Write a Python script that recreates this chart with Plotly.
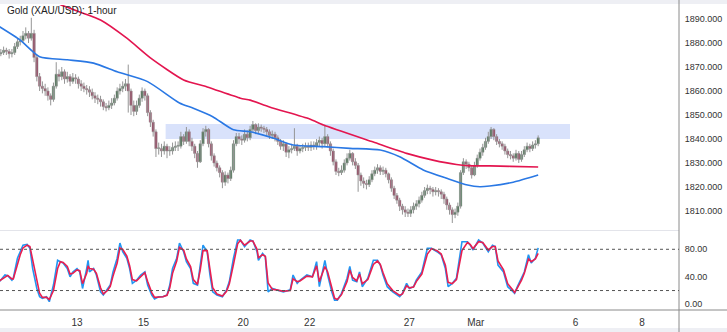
import plotly.graph_objects as go

# ---------------- data ----------------
title_text = "Gold (XAU/USD): 1-hour"

# x axis: trading hours counted from Wed Feb 8 00:00 (weekends removed)
tick_hours = [72, 120, 192, 240, 312, 360, 432, 480]
tick_labels = ["13", "15", "20", "22", "27", "Mar", "6", "8"]

price_ticks = [1810, 1820, 1830, 1840, 1850, 1860, 1870, 1880, 1890]
stoch_ticks = [0, 40, 80]
stoch_levels = [20, 80]

first_hour = 17
bar_step_hours = 2
first_open = 1875.5

closes = [1876, 1877, 1876.5, 1875.5, 1876, 1878.5, 1880.5, 1881, 1883, 1884,
          1882, 1884, 1874, 1866, 1862, 1861, 1860, 1858, 1856.5, 1862,
          1867, 1866, 1868, 1865, 1866, 1864, 1865.5, 1865, 1863, 1862,
          1861, 1860.5, 1859.5, 1858, 1857, 1856.5, 1855.5, 1853.5, 1853, 1854,
          1855, 1857, 1860, 1861, 1862, 1863, 1860, 1854, 1851.5, 1854,
          1857, 1860, 1858, 1851, 1847, 1843, 1836, 1836, 1835, 1837,
          1835, 1835, 1836.5, 1837, 1837, 1841, 1839, 1843, 1839, 1837,
          1834, 1830.5, 1838, 1843, 1844, 1838, 1833, 1830, 1828, 1826,
          1822, 1825, 1823.5, 1827, 1838, 1841, 1840, 1839.5, 1842, 1840.5,
          1844, 1846, 1843.5, 1845, 1844.5, 1844, 1843, 1841.5, 1842, 1840.5,
          1839, 1837, 1838, 1834.5, 1835.5, 1836, 1837, 1835, 1836, 1836.5,
          1837, 1836.5, 1837.5, 1837, 1838.5, 1839.5, 1838, 1841, 1838, 1835,
          1830.5, 1826.5, 1826, 1827, 1830, 1832, 1834, 1830.5, 1829, 1825,
          1822.5, 1821.5, 1821, 1823, 1825.5, 1827, 1828, 1826.5, 1827, 1825.5,
          1823, 1819.5, 1816.5, 1814.5, 1812, 1810.5, 1809.5, 1809, 1810.5, 1812,
          1813, 1814.5, 1816.5, 1818.5, 1819.5, 1819, 1818, 1818.5, 1818, 1817,
          1815, 1812.5, 1810.5, 1808.5, 1809.5, 1812, 1826, 1830.5, 1829.5, 1828,
          1825, 1829, 1832, 1834.5, 1836.5, 1839, 1841, 1844, 1841, 1839,
          1838, 1837, 1835, 1833.5, 1833, 1832, 1834, 1831.5, 1833.5, 1835.5,
          1837, 1836, 1837.5, 1838, 1840.5]

highs = [1877.5, 1878.5, 1878, 1877.5, 1877.5, 1880, 1882, 1883, 1885, 1886.5,
         1885, 1890.5, 1885.5, 1875, 1867.5, 1864, 1863, 1861.5, 1859, 1863.5,
         1872, 1869, 1870, 1869, 1868, 1867, 1867.5, 1867, 1866, 1864.5,
         1863.5, 1862.5, 1862, 1861, 1859.5, 1858.5, 1858, 1856.5, 1855, 1856,
         1857, 1858.5, 1861.5, 1863, 1864, 1865, 1871, 1861, 1856, 1856,
         1858.5, 1861.5, 1861, 1859, 1852, 1848, 1844, 1838.5, 1838, 1839,
         1838, 1837, 1838.5, 1839, 1839, 1843, 1842, 1845, 1844, 1840.5,
         1838, 1835, 1839.5, 1844.5, 1845.5, 1844.5, 1839, 1834, 1831, 1829,
         1827, 1826.5, 1826, 1828.5, 1839.5, 1842.5, 1842.5, 1841.5, 1844, 1843.5,
         1845.5, 1847.5, 1846.5, 1846.5, 1846, 1845.5, 1845, 1844, 1843.5, 1843,
         1841.5, 1840, 1839.5, 1838.5, 1837, 1838, 1844.5, 1838, 1837.5, 1838,
         1838.5, 1838.5, 1839, 1839, 1840, 1841, 1840.5, 1846, 1842, 1839,
         1836, 1831.5, 1828, 1829, 1831.5, 1834, 1835.5, 1834.5, 1832, 1830,
         1826, 1824, 1823, 1824.5, 1827, 1828.5, 1829.5, 1829, 1828.5, 1828,
         1826, 1824, 1820.5, 1817.5, 1815.5, 1813, 1812, 1811, 1812, 1813.5,
         1814.5, 1816, 1818, 1820, 1821, 1820.5, 1820, 1820, 1819.5, 1819,
         1818, 1816, 1813.5, 1811.5, 1811, 1813.5, 1827, 1832, 1831.5, 1830.5,
         1829, 1830.5, 1833.5, 1836, 1838, 1840.5, 1843, 1845, 1844.5, 1842,
         1840, 1839, 1838, 1836, 1835, 1834, 1835.5, 1835, 1835, 1837,
         1838.5, 1838, 1839, 1839.5, 1841.5]

lows = [1874.5, 1875, 1875, 1873.5, 1874, 1875, 1877.5, 1879, 1880, 1881.5,
        1880, 1881, 1872, 1864, 1860, 1859, 1858, 1856, 1854, 1855.5,
        1861, 1864, 1864.5, 1863, 1863.5, 1862, 1863, 1863, 1861, 1860,
        1859.5, 1858.5, 1857.5, 1856.5, 1855, 1854.5, 1853.5, 1852, 1851.5, 1852,
        1852.5, 1854, 1856, 1858.5, 1859.5, 1860, 1851, 1850, 1849.5, 1850,
        1853, 1855.5, 1856, 1849.5, 1845, 1841, 1832.5, 1833.5, 1832.5, 1833.5,
        1832, 1833, 1833.5, 1835, 1835, 1836, 1837.5, 1838, 1837, 1835,
        1832, 1828, 1830, 1837, 1841, 1836.5, 1831, 1828.5, 1826.5, 1824,
        1819.5, 1820.5, 1821.5, 1822.5, 1826, 1837, 1838, 1837.5, 1838.5, 1839,
        1839.5, 1843, 1842, 1842.5, 1843, 1842.5, 1841.5, 1840, 1840, 1839,
        1837.5, 1835.5, 1835, 1832.5, 1832, 1834, 1835, 1833, 1834, 1834.5,
        1835, 1835, 1835, 1835.5, 1835.5, 1837, 1836, 1837, 1836.5, 1833,
        1829, 1825, 1824.5, 1825, 1826, 1829, 1831, 1829, 1827.5, 1818,
        1820.5, 1819.5, 1819, 1820, 1822, 1824.5, 1825.5, 1825, 1825, 1824,
        1821.5, 1818, 1815, 1813, 1810, 1808.5, 1807.5, 1807.5, 1807.5, 1809,
        1810.5, 1811.5, 1813.5, 1815.5, 1817, 1817, 1816, 1816.5, 1816, 1815,
        1813, 1810.5, 1808.5, 1805, 1807, 1808, 1811, 1825, 1827.5, 1826.5,
        1823.5, 1824.5, 1828, 1831, 1833, 1835.5, 1838, 1840, 1839.5, 1837.5,
        1836.5, 1835.5, 1833.5, 1832, 1831.5, 1830.5, 1831, 1830, 1830.5, 1832.5,
        1834.5, 1834.5, 1835, 1836, 1837]

# slow moving average (red)
ma_red_hours = [52, 58, 89, 108, 125, 149, 166, 190, 197, 211, 240, 250,
                286, 310, 329, 346, 358, 370, 385, 405]
ma_red = [1899.2, 1896.5, 1889.6, 1882.0, 1873.8, 1864.6, 1861.7, 1857.0,
          1856.2, 1853.3, 1848.3, 1845.8, 1838.7, 1834.0, 1831.2, 1829.4,
          1828.8, 1828.8, 1828.6, 1828.3]

# faster moving average (blue)
ma_blue_hours = [16, 31, 45, 65, 84, 101, 123, 146, 156, 170, 185, 197, 214,
                 228, 250, 269, 291, 305, 322, 339, 354, 363, 370, 387, 405]
ma_blue = [1886.8, 1881.2, 1874.3, 1873.0, 1871.6, 1868.0, 1863.9, 1855.0,
           1852.8, 1849.3, 1843.8, 1843.0, 1840.3, 1837.5, 1836.8, 1836.1,
           1835.4, 1832.6, 1827.1, 1823.6, 1820.8, 1820.1, 1820.4, 1822.0, 1825.0]

# resistance zone
zone_low, zone_high = 1840.0, 1846.2
zone_start_hour, zone_end_hour = 136, 428

# stochastic oscillator
stoch_hours = [16, 20, 22, 25, 26, 29, 31, 33, 36, 38, 40, 43, 45, 47, 50, 52,
               55, 58, 60, 62, 65, 67, 69, 72, 74, 76, 79, 80, 81, 84, 86, 89,
               91, 94, 96, 98, 101, 103, 105, 108, 110, 112, 115, 118, 121, 123,
               126, 128, 131, 134, 137, 139, 141, 144, 146, 149, 151, 154, 156,
               159, 161, 163, 166, 168, 170, 173, 177, 180, 182, 185, 188, 190,
               193, 197, 199, 202, 203, 206, 208, 210, 213, 216, 221, 226, 228,
               231, 233, 238, 242, 245, 247, 251, 253, 256, 258, 260, 263, 267,
               269, 271, 274, 276, 278, 282, 286, 289, 291, 293, 296, 300, 305,
               307, 310, 312, 315, 317, 321, 325, 328, 332, 335, 338, 340, 343,
               346, 350, 354, 356, 358, 362, 365, 369, 372, 374, 376, 380, 383,
               387, 388, 390, 393, 395, 398, 400, 403, 405]
stoch_k = [33, 42.6, 41.6, 35, 38, 67, 76.5, 86, 87, 81.5, 52, 23, 11, 8.7, 11, 3.8,
           28, 64, 62, 60, 52, 40, 47, 52, 47, 23, 52, 64, 47, 52, 42.6, 18,
           13.5, 23, 28, 47, 67, 89, 76.5, 67, 52, 30.5, 35, 42.6, 47, 28,
           13.5, 7.7, 11, 11, 13.5, 28, 52, 67, 89, 76.5, 62, 52, 30.5,
           28, 57, 86, 76.5, 42.6, 18, 13.5, 11, 21, 33, 67, 93.5, 93.5,
           84, 93.5, 92, 76.5, 64, 74, 69, 18, 23, 21, 18, 21, 42.6,
           30.5, 35, 42.6, 40, 62, 25.6, 64, 42.6, 18, 6, 6, 16, 38,
           55, 35, 33, 47, 25.6, 38, 64, 64, 57, 42.6, 25.6, 18, 11,
           16, 30.5, 23, 25.6, 35, 47, 81.5, 81.5, 76.5, 72, 52, 25.6, 30.5,
           38, 91, 91, 86, 79, 93.5, 89, 76.5, 86, 84, 57, 47, 25.6,
           18, 16, 25.6, 38, 47, 72, 60, 67, 82]
stoch_d = [34, 40, 42, 37, 37, 58, 72, 82, 86, 84, 64, 35, 16, 10, 10, 7,
           20, 52, 62, 61, 55, 44, 45, 50, 49, 30, 45, 56, 52, 51, 45, 24,
           15, 20, 26, 41, 60, 82, 80, 70, 56, 36, 34, 40, 46, 33,
           17, 10, 10, 11, 13, 24, 45, 63, 83, 79, 66, 55, 36,
           29, 50, 78, 78, 50, 24, 15, 12, 19, 30, 58, 88, 93,
           86, 92, 92, 80, 68, 72, 70, 31, 22, 21, 19, 20, 37,
           33, 34, 41, 40, 56, 33, 55, 47, 24, 9, 7, 14, 33,
           50, 39, 34, 44, 30, 36, 58, 63, 58, 46, 30, 20, 13,
           15, 27, 24, 25, 33, 44, 73, 81, 78, 73, 57, 32, 30,
           36, 78, 90, 87, 81, 91, 90, 79, 84, 84, 63, 50, 30,
           20, 17, 24, 35, 45, 66, 62, 66, 74]

# ---------------- derived candle pieces ----------------
bar_hours = [first_hour + bar_step_hours * i for i in range(len(closes))]
opens = [first_open] + closes[:-1]

wick_x, wick_y = [], []
for h, lo, hi in zip(bar_hours, lows, highs):
    wick_x += [h, h, None]
    wick_y += [lo, hi, None]

body_base = [min(o, c) for o, c in zip(opens, closes)]
body_len = [max(abs(c - o), 0.35) for o, c in zip(opens, closes)]
body_col = ["#1d5e2c" if c >= o else "#9c1643" for o, c in zip(opens, closes)]

# ---------------- figure ----------------
FONT = "Liberation Sans, Arial, sans-serif"
X_RANGE = [16.4, 506.7]
TOTAL_W = 727 / 679.0

fig = go.Figure()

fig.add_trace(go.Scatter(x=wick_x, y=wick_y, mode="lines",
                         line=dict(color="#959595", width=1),
                         xaxis="x", yaxis="y", hoverinfo="skip"))
fig.add_trace(go.Bar(x=bar_hours, y=body_len, base=body_base, width=1.7,
                     marker=dict(color=body_col, line=dict(width=0.6, color="#9a9a9a")),
                     xaxis="x", yaxis="y", hoverinfo="skip"))
fig.add_trace(go.Scatter(x=ma_blue_hours, y=ma_blue, mode="lines",
                         line=dict(color="#2a78e4", width=1.6, shape="spline", smoothing=0.6),
                         xaxis="x", yaxis="y"))
fig.add_trace(go.Scatter(x=ma_red_hours, y=ma_red, mode="lines",
                         line=dict(color="#e3154f", width=1.6, shape="spline", smoothing=0.6),
                         xaxis="x", yaxis="y"))

fig.add_trace(go.Scatter(x=stoch_hours, y=stoch_k, mode="lines",
                         line=dict(color="#2196f3", width=1.6),
                         xaxis="x2", yaxis="y2"))
fig.add_trace(go.Scatter(x=stoch_hours, y=stoch_d, mode="lines",
                         line=dict(color="#e91e50", width=1.6),
                         xaxis="x2", yaxis="y2"))

shapes = [
    # resistance zone
    dict(type="rect", xref="x", yref="y", x0=zone_start_hour, x1=zone_end_hour,
         y0=zone_low, y1=zone_high, fillcolor="#d9e2fb", line=dict(width=0), layer="below"),
    # top and bottom light bands
    dict(type="rect", xref="paper", yref="paper", x0=0, x1=TOTAL_W,
         y0=1 + 1 / 305, y1=1 + 5 / 305, fillcolor="#eeeff4", line=dict(width=0)),
    dict(type="rect", xref="paper", yref="paper", x0=0, x1=TOTAL_W,
         y0=-22 / 305, y1=-18 / 305, fillcolor="#eeeff4", line=dict(width=0)),
    # panel separator
    dict(type="line", xref="paper", yref="paper", x0=0, x1=1,
         y0=0.2607, y1=0.2607, line=dict(color="#e3e4ea", width=1)),
    # bottom axis line
    dict(type="line", xref="paper", yref="paper", x0=0, x1=TOTAL_W,
         y0=0, y1=0, line=dict(color="#8a8a8a", width=1)),
    # right price-scale line
    dict(type="line", xref="paper", yref="paper", x0=1, x1=1,
         y0=-22 / 305, y1=1 + 5 / 305, line=dict(color="#8a8a8a", width=1)),
]
for lvl in stoch_levels:
    shapes.append(dict(type="line", xref="paper", yref="y2", x0=0, x1=1, y0=lvl, y1=lvl,
                       line=dict(color="#555555", width=1, dash="dot")))

fig.update_layout(
    width=727, height=332,
    margin=dict(l=0, r=48, t=5, b=22),
    paper_bgcolor="white", plot_bgcolor="white",
    showlegend=False, hovermode=False,
    font=dict(family=FONT, size=9, color="#333333"),
    shapes=shapes,
    xaxis=dict(domain=[0, 1], range=X_RANGE, anchor="y", showticklabels=False,
               showgrid=False, zeroline=False, showline=False, ticks=""),
    xaxis2=dict(domain=[0, 1], range=X_RANGE, anchor="y2", tickvals=tick_hours,
                ticktext=tick_labels, tickfont=dict(size=10, color="#333333"),
                ticks="outside", ticklen=3, tickcolor="rgba(0,0,0,0)",
                showgrid=False, zeroline=False, showline=False),
    yaxis=dict(domain=[0.2623, 1], range=[1802.08, 1895.83], anchor="x", side="right",
               tickvals=price_ticks, tickformat=".3f", tickfont=dict(size=9, color="#333333"),
               ticks="outside", ticklen=3, tickcolor="rgba(0,0,0,0)",
               showgrid=False, zeroline=False, showline=False),
    yaxis2=dict(domain=[0, 0.259], range=[-8.3, 106.6], anchor="x2", side="right",
                tickvals=stoch_ticks, tickformat=".2f", tickfont=dict(size=9, color="#333333"),
                ticks="outside", ticklen=3, tickcolor="rgba(0,0,0,0)",
                showgrid=False, zeroline=False, showline=False),
    annotations=[dict(text=title_text, xref="paper", yref="paper", x=5 / 679, y=0.9836,
                      xanchor="left", yanchor="middle", showarrow=False,
                      font=dict(family=FONT, size=10, color="#222222"))],
)

fig.write_html("out.html")
